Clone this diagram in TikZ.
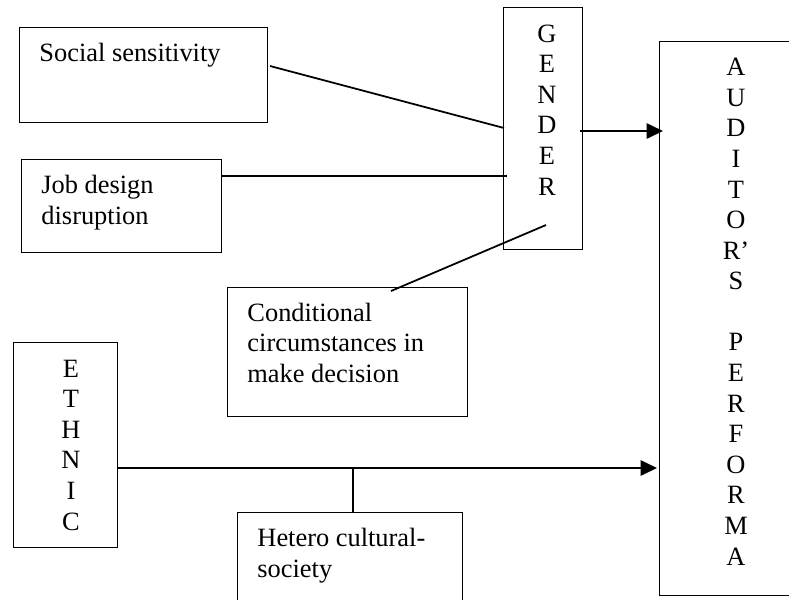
\documentclass[tikz,border=0pt]{standalone}
\usepackage{fontspec}
\setmainfont{Liberation Serif}
\usetikzlibrary{arrows.meta}
\newdimen\px \px=0.4545pt
\begin{document}
\begin{tikzpicture}[x=0.4545pt,y=-0.4545pt,
  box/.style={draw, line width=0.5pt, inner sep=0pt, anchor=north west},
  txt/.style={inner sep=0pt, font=\fontsize{12pt}{13.9pt}\selectfont},
  stack/.style={txt, align=center, anchor=base},
  para/.style={txt, align=left, anchor=base west},
  link/.style={line width=0.8pt},
  arr/.style={line width=0.9pt, -{Triangle[length=7.5pt,width=7pt]}}]
\clip (0,0) rectangle (789,599);
% boxes
\node[box, minimum width=248\px, minimum height=95\px]  (soc)  at (19,27)  {};
\node[box, minimum width=200\px, minimum height=93\px]  (job)  at (21,159) {};
\node[box, minimum width=79\px,  minimum height=242\px] (gen)  at (503,7)  {};
\node[box, minimum width=154\px, minimum height=554\px] (aud)  at (659,41) {};
\node[box, minimum width=240\px, minimum height=129\px] (cond) at (227,287) {};
\node[box, minimum width=104\px, minimum height=205\px] (eth)  at (13,342) {};
\node[box, minimum width=225\px, minimum height=130\px] (het)  at (237,512) {};
% texts (anchor = baseline of the last line)
\node[para] (soct)  at (39,61)    {Social sensitivity};
\node[para] (jobt)  at (41,224)   {Job design\\disruption};
\node[para] (condt) at (247,382.5) {Conditional\\circumstances in\\make decision};
\node[para] (hett)  at (257,577.3) {Hetero cultural-\\society};
\node[stack] (gent) at (547,195)  {G\\E\\N\\D\\E\\R};
\node[stack] (audt) at (736,565)  {A\\U\\D\\I\\T\\O\\R’\\S\\\mbox{}\\P\\E\\R\\F\\O\\R\\M\\A};
\node[stack] (etht) at (71,530)   {E\\T\\H\\N\\I\\C};
% connector end points
\coordinate (s1) at (270,66);   \coordinate (g1) at (504,128);
\coordinate (j1) at (222,176);  \coordinate (g2) at (507,176);
\coordinate (c1) at (391,291);  \coordinate (g3) at (546,225);
\coordinate (g4) at (580,131);  \coordinate (a1) at (663,131);
\coordinate (e1) at (117,468);  \coordinate (a2) at (657,468);
\coordinate (m1) at (353,468);  \coordinate (h1) at (353,513);
% connectors
\draw[link] (s1) -- (g1);
\draw[link] (j1) -- (g2);
\draw[link] (c1) -- (g3);
\draw[arr]  (g4) -- (a1);
\draw[arr]  (e1) -- (a2);
\draw[link] (m1) -- (h1);
\end{tikzpicture}
\end{document}
